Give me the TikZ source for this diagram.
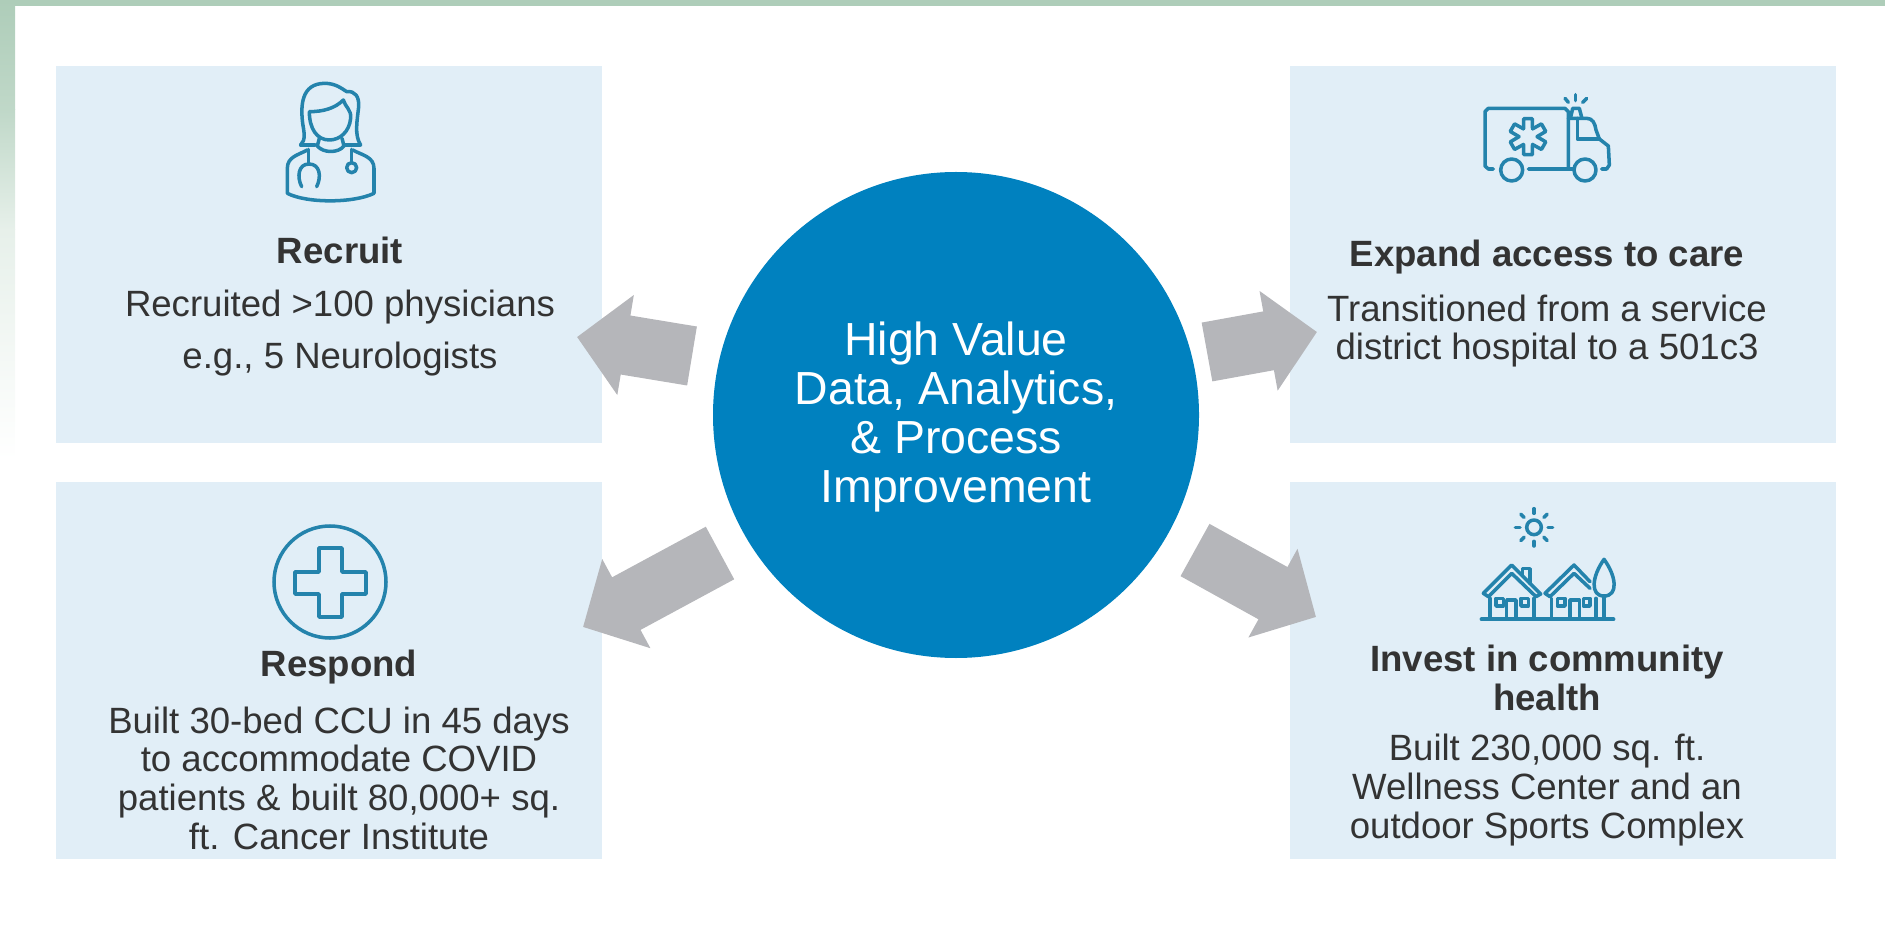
\documentclass[tikz,border=0pt]{standalone}
\usepackage{fontspec}
\setmainfont{Liberation Sans}
\usepackage{tikz}
\usetikzlibrary{arrows.meta}

\definecolor{boxblue}{HTML}{E1EEF7}
\definecolor{hubblue}{HTML}{0081BF}
\definecolor{arrowgray}{HTML}{B5B6BA}
\definecolor{icontone}{HTML}{2483AC}
\definecolor{bodytext}{HTML}{333333}
\definecolor{edgegreen}{HTML}{AECDB9}

\tikzset{
	panel/.style={fill=boxblue,minimum width=546*0.01cm,minimum height=377*0.01cm,inner sep=0pt},
	hub/.style={circle,fill=hubblue,minimum size=486*0.01cm,inner sep=0pt},
	hubtext/.style={align=center,text=white,font=\fontsize{13.2}{13.95}\selectfont},
	heading/.style={align=center,text=bodytext,font=\fontsize{10.4}{10.9}\selectfont\bfseries},
	body/.style={align=center,text=bodytext,font=\fontsize{10.4}{11}\selectfont},
	blockarrow/.style={draw=arrowgray,line width=17pt,-{Triangle[length=14pt,width=28pt]}},
	iconline/.style={draw=icontone,line width=1pt,line cap=round,line join=round}
}

\begin{document}
\begin{tikzpicture}[x=0.01cm,y=-0.01cm]
	\useasboundingbox (0,0) rectangle (1885,940);

	% page edge
	\fill [edgegreen] (0,0) rectangle (1885,6);
	\shade [top color=edgegreen,bottom color=edgegreen!78!white] (0,0) rectangle (15,110);
	\shade [top color=edgegreen!78!white,bottom color=edgegreen!30!white] (0,110) rectangle (15,230);
	\shade [top color=edgegreen!30!white,bottom color=white] (0,230) rectangle (15,460);

	% panels
	\node [panel] (recruitbox) at (329,254.5) {};
	\node [panel] (expandbox) at (1563,254.5) {};
	\node [panel] (respondbox) at (329,670.5) {};
	\node [panel] (investbox) at (1563,670.5) {};
	\node [hub] (hubcircle) at (956,415) {};

	% arrows
	\coordinate (recruitstart) at (692,356);
	\coordinate (recruittip) at (577,337);
	\coordinate (expandstart) at (1207,352);
	\coordinate (expandtip) at (1317,332);
	\coordinate (respondstart) at (720,553);
	\coordinate (respondtip) at (583,627);
	\coordinate (investstart) at (1195,550);
	\coordinate (investtip) at (1316,617);
	\draw [blockarrow] (recruitstart) -- (recruittip);
	\draw [blockarrow] (expandstart) -- (expandtip);
	\draw [blockarrow] (respondstart) -- (respondtip);
	\draw [blockarrow] (investstart) -- (investtip);

	% texts
	\node [hubtext] (hubtitle) at (956,417)
	{
		High Value\\
		Data, Analytics,\\
		\& Process\\
		Improvement
	};
	\node [heading] (recruithead) at (340,250) {Recruit};
	\node [body] (recruittext) at (340,333)
	{
		Recruited >100 physicians\\[3.7pt]
		e.g., 5 Neurologists
	};
	\node [heading] (expandhead) at (1547,257) {Expand access to care};
	\node [body] (expandtext) at (1547,331)
	{
		Transitioned from a service\\
		district hospital to a 501c3
	};
	\node [heading] (respondhead) at (339,667) {Respond};
	\node [body] (respondtext) at (339,778)
	{
		Built 30-bed CCU in 45 days\\
		to accommodate COVID\\
		patients \& built 80,000+ sq.\\
		ft. Cancer Institute
	};
	\node [heading] (investhead) at (1547,678)
	{
		Invest in community\\
		health
	};
	\node [body] (investtext) at (1547,790)
	{
		Built 230,000 sq. ft.\\
		Wellness Center and an\\
		outdoor Sports Complex
	};

	% doctor icon
	\begin{scope}[shift={(230,60)},x=0.01cm/3,y=-0.01cm/3]
		\draw [iconline] (212,255) .. controls (228,240) and (222,215) .. (218,190) .. controls (212,140) and (212,70) .. (285,70)
		.. controls (315,70) and (335,85) .. (350,95) .. controls (375,92) and (388,110) .. (386,140)
		.. controls (382,180) and (372,225) .. (392,255) -- (345,255);
		\draw [iconline] (212,255) -- (255,255);
		\draw [iconline] (238,155) .. controls (280,155) and (315,145) .. (340,120) .. controls (345,140) and (365,150) .. (362,175)
		.. controls (358,215) and (330,240) .. (298,240) .. controls (260,240) and (238,205) .. (238,155);
		\draw [iconline] (268,235) -- (262,258) .. controls (280,280) and (325,280) .. (342,258) -- (336,235);
		\draw [iconline] (232,270) .. controls (205,285) and (172,290) .. (172,325) -- (172,400)
		.. controls (230,430) and (370,430) .. (432,400) -- (432,325) .. controls (432,290) and (395,285) .. (368,270);
		\draw [iconline] (235,268) -- (235,312);
		\draw [iconline] (215,380) .. controls (200,350) and (205,312) .. (237,312) .. controls (270,312) and (275,350) .. (260,380);
		\draw [iconline] (365,268) -- (365,308);
		\draw [iconline] (365,323) circle [radius=15];
	\end{scope}

	% ambulance icon
	\begin{scope}[shift={(1440,70)},x=0.01cm/3,y=-0.01cm/3]
		\draw [iconline] (160,297) -- (145,297) -- (135,288) -- (135,125) -- (145,115) -- (375,115) -- (385,125) -- (385,297) -- (265,297);
		\draw [iconline] (215,300) circle [radius=33];
		\draw [iconline] (435,300) circle [radius=33];
		\draw [iconline] (385,145) -- (440,145) .. controls (458,145) and (465,160) .. (468,180) -- (478,207) -- (505,228) -- (508,285) -- (500,297) -- (485,297);
		\draw [iconline] (385,297) -- (400,297);
		\draw [iconline] (412,145) -- (412,207) -- (478,207);
		\draw [iconline] (392,142) -- (398,115) -- (418,115) -- (425,142);
		\draw [iconline] (375,85) -- (385,97);
		\draw [iconline] (406,74) -- (406,92);
		\draw [iconline] (440,85) -- (428,97);
		\foreach \armangle in {30,90,...,330}
			\draw [iconline,shift={(264,200)},rotate=\armangle] (-30:27) -- (54,-13) -- (54,13) -- (30:27);
	\end{scope}

	% cross icon
	\draw [iconline] (330,582) circle [radius=56];
	\draw [iconline] (319,548) -- (342,548) -- (342,572) -- (366,572) -- (366,594) -- (342,594) -- (342,617) -- (319,617) -- (319,594) -- (295,594) -- (295,572) -- (319,572) -- cycle;

	% houses icon
	\begin{scope}[shift={(1450,490)},x=0.01cm/3,y=-0.01cm/3]
		\draw [iconline] (252,112) circle [radius=22];
		\foreach \rayangle in {0,45,...,315}
			\draw [iconline,shift={(252,112)}] (\rayangle:42) -- (\rayangle:56);
		\draw [iconline,line width=1.2pt] (95,388) -- (490,388);
		\draw [iconline] (100,310) -- (185,225) -- (272,312) -- (258,320) -- (185,250) -- (115,320) -- cycle;
		\draw [iconline] (218,258) -- (218,236) -- (240,236) -- (240,280);
		\draw [iconline] (120,325) -- (120,385);
		\draw [iconline] (252,325) -- (252,385);
		\draw [iconline] (170,385) -- (170,330) -- (198,330) -- (198,385);
		\draw [iconline] (138,325) rectangle (160,348);
		\draw [iconline] (213,325) rectangle (235,348);
		\draw [iconline] (420,275) -- (372,225) -- (285,310) -- (300,320) -- (372,250) -- (420,295);
		\draw [iconline] (305,325) -- (305,385);
		\draw [iconline] (438,325) -- (438,385);
		\draw [iconline] (360,385) -- (360,330) -- (388,330) -- (388,385);
		\draw [iconline] (322,325) rectangle (345,348);
		\draw [iconline] (400,325) rectangle (420,348);
		\draw [iconline] (462,318) .. controls (420,318) and (425,260) .. (462,208) .. controls (500,260) and (505,318) .. (462,318);
		\draw [iconline] (462,318) -- (462,385);
	\end{scope}
\end{tikzpicture}
\end{document}
